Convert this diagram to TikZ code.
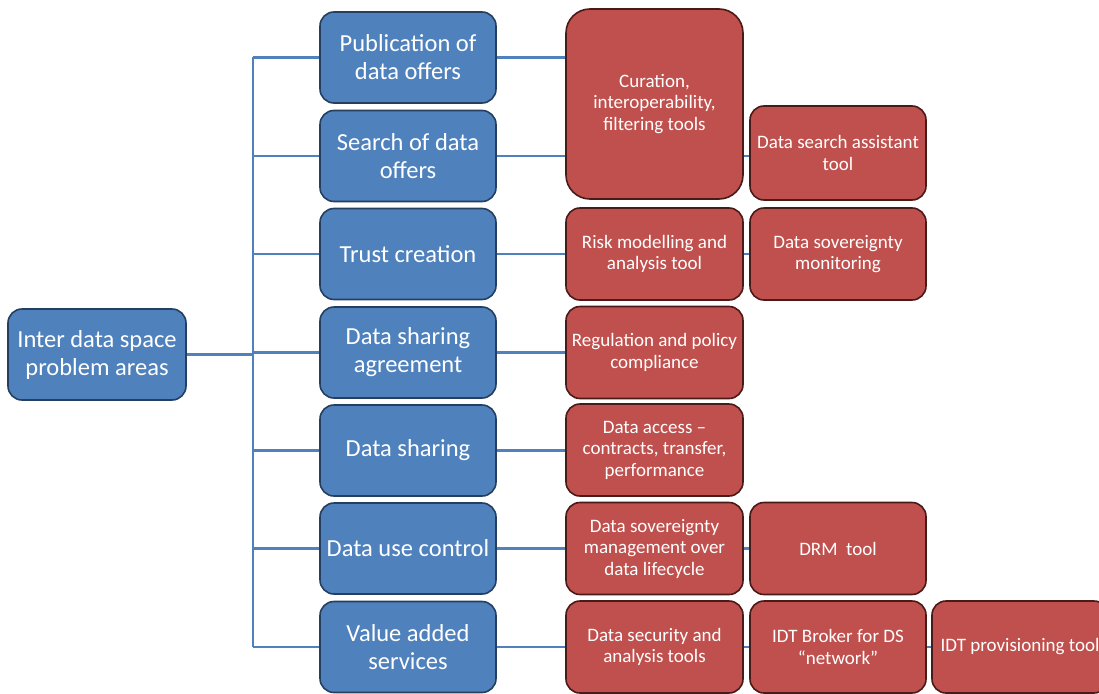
\documentclass[tikz,border=0pt]{standalone}
\usepackage{fontspec}
\setmainfont{Carlito}
\definecolor{areablue}{HTML}{4F81BD}
\definecolor{areaedge}{HTML}{243F60}
\definecolor{toolred}{HTML}{C0504D}
\definecolor{tooledge}{HTML}{4A1A19}
\definecolor{linkblue}{HTML}{4F81BD}
\begin{document}
\begin{tikzpicture}[x=1pt,y=-1pt,
  box/.style={rounded corners=14pt, line width=1.6pt, inner sep=2pt, align=center, text=white},
  area/.style={box, fill=areablue, draw=areaedge, font=\fontsize{24.5}{28}\selectfont,
    minimum width=176pt, minimum height=91pt},
  tool/.style={box, fill=toolred, draw=tooledge, font=\fontsize{19}{21.5}\selectfont,
    minimum width=177pt, minimum height=92pt},
  link/.style={draw=linkblue, line width=2.4pt}]
\useasboundingbox (0,0) rectangle (1099,693);
\clip (0,0) rectangle (1099,693);
\fill[white] (0,0) rectangle (1099,693);

% root of the tree
\node[area, minimum width=178pt] (root) at (97,354.5) {Inter data space\\problem areas};

% problem areas
\node[area] (pub)    at (408,57.5)  {Publication of\\data offers};
\node[area] (search) at (408,156)   {Search of data\\offers};
\node[area] (trust)  at (408,254)   {Trust creation};
\node[area] (dsa)    at (408,352.5) {Data sharing\\agreement};
\node[area] (ds)     at (408,450.5) {Data sharing};
\node[area] (duc)    at (408,548.5) {Data use control};
\node[area] (vas)    at (408,647)   {Value added\\services};

% tools, first column
\node[tool, minimum height=190pt, rounded corners=24pt] (cur) at (654.5,104) {Curation,\\interoperability,\\filtering tools};
\node[tool] (risk) at (654.5,254)   {Risk modelling and\\analysis tool};
\node[tool] (reg)  at (654.5,352.5) {Regulation and policy\\compliance};
\node[tool] (acc)  at (654.5,450)   {Data access --\\contracts, transfer,\\performance};
\node[tool] (sovm) at (654.5,548.5) {Data sovereignty\\management over\\data lifecycle};
\node[tool] (sec)  at (654.5,647)   {Data security and\\analysis tools};

% tools, second and third column
\node[tool, minimum width=176pt, minimum height=94pt] (assist) at (838,153) {Data search assistant\\tool};
\node[tool, minimum width=176pt] (mon)    at (838,254)   {Data sovereignty\\monitoring};
\node[tool, minimum width=176pt] (drm)    at (838,548.5) {DRM\ \ tool};
\node[tool, minimum width=176pt] (broker) at (838,647)   {IDT Broker for DS\\“network”};
\node[tool, minimum width=176pt] (prov)   at (1020,647)  {IDT provisioning tool};

% bus from the root to the problem areas
\coordinate (bus) at (253,353);
\draw[link] (root.east) -- (root.east -| bus);
\draw[link] (bus |- pub.west) -- (bus |- vas.west);
\foreach \n in {pub,search,trust,dsa,ds,duc,vas}
  \draw[link] (bus |- \n.west) -- (\n.west);

% problem areas to tools
\draw[link] (pub.east) -- (pub.east -| cur.west);
\draw[link] (search.east) -- (search.east -| cur.west);
\draw[link] (trust.east) -- (trust.east -| risk.west);
\draw[link] (dsa.east) -- (dsa.east -| reg.west);
\draw[link] (ds.east) -- (ds.east -| acc.west);
\draw[link] (duc.east) -- (duc.east -| sovm.west);
\draw[link] (vas.east) -- (vas.east -| sec.west);

% tool chains
\draw[link] (search.east -| cur.east) -- (search.east -| assist.west);
\draw[link] (risk.east) -- (risk.east -| mon.west);
\draw[link] (sovm.east) -- (sovm.east -| drm.west);
\draw[link] (sec.east) -- (sec.east -| broker.west);
\draw[link] (broker.east) -- (broker.east -| prov.west);
\end{tikzpicture}
\end{document}
